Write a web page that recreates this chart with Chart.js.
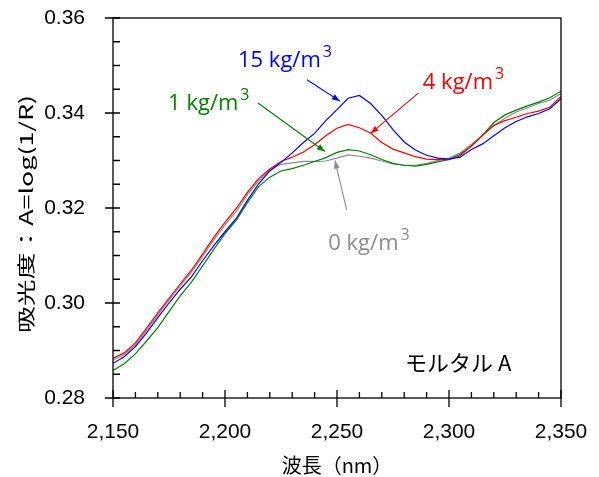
<!DOCTYPE html>
<html><head><meta charset="utf-8">
<script src="https://cdn.jsdelivr.net/npm/chart.js@4.4.1/dist/chart.umd.min.js"></script>
<style>html,body{margin:0;padding:0;background:#fff;}canvas{display:block;}</style>
</head><body>
<canvas id="c" width="599" height="477"></canvas>
<script>
// ---- data ----
const wavelengths = [2150,2155,2160,2165,2170,2175,2180,2185,2190,2195,2200,2205,2210,2215,2220,2225,2230,2235,2240,2245,2250,2255,2260,2265,2270,2275,2280,2285,2290,2295,2300,2305,2310,2315,2320,2325,2330,2335,2340,2345,2350];
const absorb15 = [0.2873,0.2887,0.2908,0.2937,0.2969,0.3000,0.3029,0.3055,0.3089,0.3121,0.3150,0.3178,0.3216,0.3251,0.3278,0.3296,0.3316,0.3338,0.3357,0.3384,0.3407,0.3431,0.3437,0.3420,0.3395,0.3365,0.3339,0.3322,0.3311,0.3305,0.3303,0.3307,0.3323,0.3335,0.3352,0.3369,0.3382,0.3392,0.3399,0.3409,0.3430];
const absorb4  = [0.2884,0.2895,0.2916,0.2947,0.2979,0.3010,0.3040,0.3069,0.3103,0.3138,0.3170,0.3199,0.3233,0.3262,0.3282,0.3298,0.3307,0.3318,0.3333,0.3352,0.3368,0.3376,0.3369,0.3358,0.3338,0.3324,0.3316,0.3308,0.3303,0.3302,0.3302,0.3310,0.3331,0.3353,0.3374,0.3384,0.3391,0.3399,0.3404,0.3412,0.3435];
const absorb1  = [0.2858,0.2872,0.2893,0.2920,0.2948,0.2982,0.3015,0.3044,0.3078,0.3113,0.3146,0.3174,0.3211,0.3245,0.3265,0.3278,0.3283,0.3290,0.3298,0.3306,0.3317,0.3323,0.3320,0.3312,0.3302,0.3294,0.3290,0.3288,0.3292,0.3297,0.3302,0.3313,0.3330,0.3353,0.3380,0.3396,0.3406,0.3415,0.3423,0.3432,0.3446];
const absorb0  = [0.2880,0.2891,0.2912,0.2943,0.2975,0.3006,0.3036,0.3065,0.3098,0.3133,0.3165,0.3193,0.3228,0.3257,0.3280,0.3292,0.3295,0.3298,0.3298,0.3299,0.3305,0.3312,0.3309,0.3305,0.3299,0.3293,0.3290,0.3290,0.3294,0.3300,0.3305,0.3316,0.3334,0.3354,0.3373,0.3389,0.3402,0.3411,0.3420,0.3427,0.3441];
const seriesNames = ['15 kg/m3','4 kg/m3','1 kg/m3','0 kg/m3'];
const xTickValues = [2150,2200,2250,2300,2350];
const xTickLabels = ['2,150','2,200','2,250','2,300','2,350'];
const yTickValues = [0.28,0.30,0.32,0.34,0.36];
const yTickLabels = ['0.28','0.30','0.32','0.34','0.36'];
const xTitle = '波長（nm）';
const yTitle = '吸光度：A=log(1/R)';
const sampleLabel = 'モルタル A';

// ---- annotation placement (data units) ----
const labelNotes = [
  {text:'15 kg/m', sup:'3', color:'#0000ff', x:2205.8, y:0.3496, arrow:[2236.6,0.3470,2251.3,0.3425]},
  {text:'4 kg/m',  sup:'3', color:'#ff0000', x:2288.3, y:0.3451, arrow:[2286.3,0.3442,2265.0,0.3357]},
  {text:'1 kg/m',  sup:'3', color:'#008000', x:2174.6, y:0.3407, arrow:[2214.7,0.3421,2244.6,0.3319]},
  {text:'0 kg/m',  sup:'3', color:'#8c8c8c', x:2246.1, y:0.3112, arrow:[2254.3,0.3196,2249.1,0.3300]}
];
const samplePos = {x:2280.4, y:0.2874};

const colors = ['#0000ff','#ff0000','#008000','#8c8c8c'];
const seriesValues = [absorb15, absorb4, absorb1, absorb0];

const datasets = seriesValues.map((vals,i)=>({
  label: seriesNames[i],
  data: wavelengths.map((w,j)=>({x:w, y:vals[j]})),
  borderColor: colors[i],
  borderWidth: 1.2,
  pointRadius: 0,
  tension: 0,
  fill: false
}));

const decorPlugin = {
  id:'decor',
  beforeDraw(chart){
    const c = chart.ctx; c.save(); c.fillStyle='#fff'; c.fillRect(0,0,chart.width,chart.height); c.restore();
  },
  afterDatasetsDraw(chart){
    const {ctx, chartArea:a, scales:{x,y}} = chart;
    ctx.save();
    ctx.strokeStyle = '#000';
    ctx.lineWidth = 1.3;
    ctx.strokeRect(a.left, a.top, a.right-a.left, a.bottom-a.top);
    ctx.beginPath();
    xTickValues.forEach(v=>{ const p=x.getPixelForValue(v); ctx.moveTo(p,a.bottom-8); ctx.lineTo(p,a.bottom+9); });
    for (let k=1;k<20;k++){ if (k%5===0) continue; const p=x.getPixelForValue(2150+k*10); ctx.moveTo(p,a.bottom); ctx.lineTo(p,a.bottom-6); }
    yTickValues.forEach(v=>{ const p=y.getPixelForValue(v); ctx.moveTo(a.left-8,p); ctx.lineTo(a.left+7,p); });
    for (let k=1;k<16;k++){ if (k%4===0) continue; const p=y.getPixelForValue(0.28+k*0.005); ctx.moveTo(a.left,p); ctx.lineTo(a.left+7,p); }
    ctx.stroke();
    ctx.restore();
  },
  afterDraw(chart){
    const {ctx, scales:{x,y}} = chart;
    ctx.save();
    labelNotes.forEach(n=>{
      const px = x.getPixelForValue(n.x), py = y.getPixelForValue(n.y);
      ctx.fillStyle = n.color; ctx.strokeStyle = n.color;
      ctx.textAlign='left'; ctx.textBaseline='alphabetic';
      ctx.font = '22px "Open Sans"';
      ctx.fillText(n.text, px, py);
      const w = ctx.measureText(n.text).width;
      ctx.font = '16px "Open Sans"';
      ctx.fillText(n.sup, px+w+2, py-10);
      const x1=x.getPixelForValue(n.arrow[0]), y1=y.getPixelForValue(n.arrow[1]);
      const x2=x.getPixelForValue(n.arrow[2]), y2=y.getPixelForValue(n.arrow[3]);
      ctx.lineWidth = 1.1;
      ctx.beginPath(); ctx.moveTo(x1,y1); ctx.lineTo(x2,y2); ctx.stroke();
      const ang = Math.atan2(y2-y1,x2-x1), L=8, H=3;
      ctx.beginPath();
      ctx.moveTo(x2,y2);
      ctx.lineTo(x2-L*Math.cos(ang)+H*Math.sin(ang), y2-L*Math.sin(ang)-H*Math.cos(ang));
      ctx.lineTo(x2-L*Math.cos(ang)-H*Math.sin(ang), y2-L*Math.sin(ang)+H*Math.cos(ang));
      ctx.closePath(); ctx.fill();
    });
    ctx.fillStyle='#000';
    ctx.font='22px "Noto Sans CJK JP"';
    ctx.textAlign='left'; ctx.textBaseline='middle';
    ctx.fillText(sampleLabel, x.getPixelForValue(samplePos.x), y.getPixelForValue(samplePos.y));
    ctx.translate(26, 214);
    ctx.rotate(-Math.PI/2);
    ctx.font='18px "Noto Sans CJK JP"';
    const tw = ctx.measureText(yTitle).width;
    ctx.scale(238/tw, 1);
    ctx.textAlign='center'; ctx.textBaseline='middle';
    ctx.fillText(yTitle, 0, 0);
    ctx.restore();
  }
};

new Chart(document.getElementById('c'), {
  type:'line',
  data:{datasets},
  plugins:[decorPlugin],
  options:{
    responsive:false, animation:false, devicePixelRatio:1, locale:'en-US',
    layout:{padding:{left:0,right:38,top:18,bottom:0}},
    plugins:{legend:{display:false}, tooltip:{enabled:false}},
    scales:{
      x:{
        type:'linear', min:2150, max:2350,
        afterFit(s){ s.height = 79; s.paddingLeft = 0; s.paddingRight = 0; },
        afterBuildTicks(s){ s.ticks = xTickValues.map(v=>({value:v})); },
        grid:{display:false, drawTicks:false}, border:{display:false},
        ticks:{padding:22, color:'#000', maxRotation:0, autoSkip:false,
               font:{family:'"Liberation Sans", Arial, sans-serif', size:21},
               callback:(v,i)=>xTickLabels[i]},
        title:{display:true, text:xTitle, color:'#000',
               font:{family:'"Noto Sans CJK JP"', size:20}, padding:{top:0,bottom:0}}
      },
      y:{
        type:'linear', min:0.28, max:0.36,
        afterFit(s){ s.width = 113; s.paddingTop = 0; s.paddingBottom = 0; },
        afterBuildTicks(s){ s.ticks = yTickValues.map(v=>({value:v})); },
        grid:{display:false, drawTicks:false}, border:{display:false},
        ticks:{padding:28, color:'#000', autoSkip:false,
               font:{family:'"Liberation Sans", Arial, sans-serif', size:21},
               callback:(v,i)=>yTickLabels[i]}
      }
    }
  }
});
</script>
</body></html>
